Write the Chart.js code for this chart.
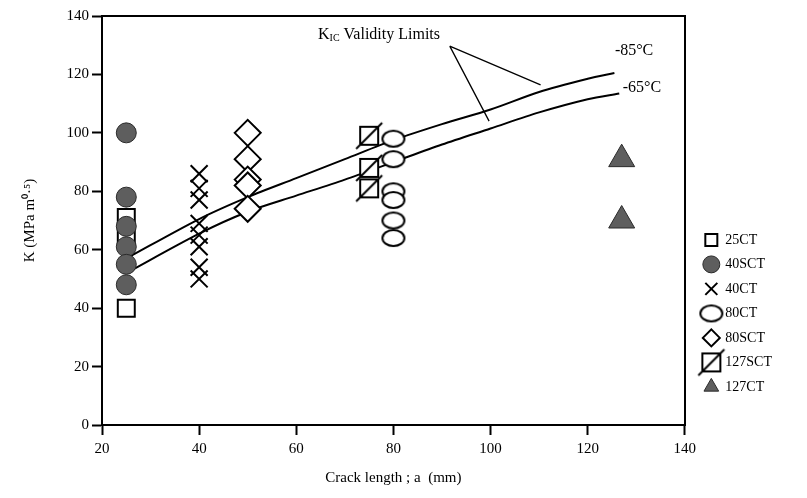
<!DOCTYPE html>
<html>
<head>
<meta charset="utf-8">
<script src="https://cdn.jsdelivr.net/npm/chart.js@4.4.0/dist/chart.umd.min.js"></script>
<style>
html, body { margin: 0; padding: 0; background: #fff; }
#wrap { width: 807px; height: 498px; }
</style>
</head>
<body>
<div id="wrap"><canvas id="myChart" width="807" height="498"></canvas></div>
<script>
// crack length a (mm) of each specimen group
var a25CT = 25, a40SCT = 25, a40CT = 40, a80CT = 80, a80SCT = 50, a127SCT = 75, a127CT = 127;
// K values (MPa m^0.5)
var k25CT = [40, 64, 71];
var k40SCT = [100, 78, 68, 61, 55, 48];
var k40CT = [86, 81, 77, 69, 65, 61, 54, 50];
var k80CT = [98, 91, 80, 77, 70, 64];
var k80SCT = [100, 91, 84, 82, 74];
var k127SCT = [99, 88, 81];
var k127CT = [91, 70];
// KIC validity limit curves
var limA85 = [25, 40, 50, 60, 70, 80, 90, 100, 110, 120, 125.5];
var lim85 = [57, 70.5, 78, 84.5, 91, 97.5, 103, 108, 114, 118.5, 120.5];
var limA65 = [25, 40, 50, 60, 70, 80, 90, 100, 110, 120, 126.5];
var lim65 = [52, 65.5, 73, 78.5, 84, 90, 96, 101.5, 107, 111.5, 113.5];
// axis ticks
var xTicks = [20, 40, 60, 80, 100, 120, 140];
var yTicks = [0, 20, 40, 60, 80, 100, 120, 140];

var serif = '"Liberation Serif", "Times New Roman", serif';

function pts(a, ks) {
  return ks.map(function (k) { return {x: a, y: k}; });
}
function curve(as, ks) {
  return as.map(function (a, i) { return {x: a, y: ks[i]}; });
}

function ellipseMark() {
  var c = document.createElement('canvas');
  c.width = 26; c.height = 20;
  var g = c.getContext('2d');
  g.fillStyle = '#fff'; g.strokeStyle = '#000'; g.lineWidth = 2;
  g.beginPath(); g.ellipse(13, 10, 11, 8, 0, 0, Math.PI * 2); g.fill(); g.stroke();
  return c;
}
function slashBoxMark() {
  var c = document.createElement('canvas');
  c.width = 30; c.height = 30;
  var g = c.getContext('2d');
  g.fillStyle = '#fff'; g.strokeStyle = '#000'; g.lineWidth = 2;
  g.fillRect(6, 6, 18, 18); g.strokeRect(6, 6, 18, 18);
  g.beginPath(); g.moveTo(2, 28); g.lineTo(28, 2); g.stroke();
  return c;
}

var notesPlugin = {
  id: 'notes',
  afterDatasetsDraw: function (chart) {
    var ctx = chart.ctx, xs = chart.scales.x, ys = chart.scales.y;
    function px(a) { return xs.getPixelForValue(a); }
    function py(k) { return ys.getPixelForValue(k); }
    ctx.save();
    ctx.fillStyle = '#000'; ctx.strokeStyle = '#000'; ctx.lineWidth = 1.3;
    ctx.textBaseline = 'middle'; ctx.textAlign = 'left';
    ctx.font = '16px ' + serif;
    ctx.fillText('-85°C', px(125.6), py(128));
    ctx.fillText('-65°C', px(127.2), py(115.4));
    // K_IC Validity Limits, right end near the leader lines
    var big = '16px ' + serif, small = '10px ' + serif;
    ctx.font = big;
    var wK = ctx.measureText('K').width, wRest = ctx.measureText(' Validity Limits').width;
    ctx.font = small;
    var wIC = ctx.measureText('IC').width;
    var x0 = px(89.6) - (wK + wIC + wRest), y0 = py(133.6);
    ctx.font = big;
    ctx.fillText('K', x0, y0);
    ctx.font = small;
    ctx.fillText('IC', x0 + wK, y0 + 4);
    ctx.font = big;
    ctx.fillText(' Validity Limits', x0 + wK + wIC, y0);
    ctx.beginPath();
    ctx.moveTo(px(91.6), py(129.7)); ctx.lineTo(px(110.3), py(116.4));
    ctx.moveTo(px(91.6), py(129.7)); ctx.lineTo(px(99.7), py(104));
    ctx.stroke();
    ctx.restore();
  }
};

var ctx = document.getElementById('myChart');
var myChart = new Chart(ctx, {
  type: 'scatter',
  data: {
    datasets: [
      {label: '25CT', data: pts(a25CT, k25CT), pointStyle: 'rect', pointRadius: 12,
        backgroundColor: '#fff', borderColor: '#000', borderWidth: 2, order: 5},
      {label: '40SCT', data: pts(a40SCT, k40SCT), pointStyle: 'circle', pointRadius: 10,
        backgroundColor: '#5e5e5e', borderColor: '#2a2a2a', borderWidth: 1, order: 4},
      {label: '40CT', data: pts(a40CT, k40CT), pointStyle: 'crossRot', pointRadius: 12,
        backgroundColor: '#000', borderColor: '#000', borderWidth: 2, order: 4},
      {label: '80CT', data: pts(a80CT, k80CT), pointStyle: ellipseMark(),
        backgroundColor: '#fff', borderColor: '#000', order: 4},
      {label: '80SCT', data: pts(a80SCT, k80SCT), pointStyle: 'rectRot', pointRadius: 13,
        backgroundColor: '#fff', borderColor: '#000', borderWidth: 2, order: 4},
      {label: '127SCT', data: pts(a127SCT, k127SCT), pointStyle: slashBoxMark(),
        backgroundColor: '#fff', borderColor: '#000', order: 4},
      {label: '127CT', data: pts(a127CT, k127CT), pointStyle: 'triangle', pointRadius: 15,
        backgroundColor: '#5e5e5e', borderColor: '#2a2a2a', borderWidth: 1, order: 4},
      {label: '-85', data: curve(limA85, lim85), showLine: true, pointRadius: 0,
        borderColor: '#000', borderWidth: 2, tension: 0.3, fill: false, order: 6},
      {label: '-65', data: curve(limA65, lim65), showLine: true, pointRadius: 0,
        borderColor: '#000', borderWidth: 2, tension: 0.3, fill: false, order: 6}
    ]
  },
  options: {
    responsive: false,
    animation: false,
    layout: {padding: {left: 0, right: 25, top: 15, bottom: 0}},
    plugins: {
      tooltip: {enabled: false},
      legend: {
        position: 'right',
        align: 'start',
        title: {display: true, text: ' ', padding: {top: 0, bottom: 193}},
        labels: {
          usePointStyle: true,
          boxHeight: 12,
          padding: 10.5,
          color: '#000',
          font: {family: serif, size: 14},
          filter: function (item) { return item.datasetIndex < 7; },
          sort: function (a, b) { return a.datasetIndex - b.datasetIndex; }
        }
      }
    },
    scales: {
      x: {
        type: 'linear', position: 'bottom', min: 20, max: 140,
        afterBuildTicks: function (s) { s.ticks = xTicks.map(function (v) { return {value: v}; }); },
        afterFit: function (s) { s.height = 73; },
        grid: {drawOnChartArea: false, drawTicks: true, tickLength: 10, tickWidth: 2, tickColor: '#000'},
        border: {display: true, color: '#000', width: 2},
        ticks: {color: '#000', padding: 5, maxRotation: 0, font: {family: serif, size: 15}},
        title: {display: true, text: 'Crack length ; a  (mm)', color: '#000',
          font: {family: serif, size: 15}, padding: {top: 4, bottom: 11}}
      },
      y: {
        type: 'linear', position: 'left', min: 0, max: 140,
        afterBuildTicks: function (s) { s.ticks = yTicks.map(function (v) { return {value: v}; }); },
        afterFit: function (s) { s.width = 102; },
        grid: {drawOnChartArea: false, drawTicks: true, tickLength: 10, tickWidth: 2, tickColor: '#000'},
        border: {display: true, color: '#000', width: 2},
        ticks: {color: '#000', padding: 3, font: {family: serif, size: 15}},
        title: {display: true, text: 'K (MPa m⁰·⁵)', color: '#000',
          font: {family: serif, size: 15}, padding: {top: 21, bottom: 0}}
      },
      x2: {
        type: 'linear', position: 'top', min: 20, max: 140,
        afterFit: function (s) { s.height = 0; },
        grid: {display: false}, ticks: {display: false},
        border: {display: true, color: '#000', width: 2}
      },
      y2: {
        type: 'linear', position: 'right', min: 0, max: 140,
        afterFit: function (s) { s.width = 9; },
        grid: {display: false}, ticks: {display: false},
        border: {display: true, color: '#000', width: 2}
      }
    }
  },
  plugins: [notesPlugin]
});
</script>
</body>
</html>
